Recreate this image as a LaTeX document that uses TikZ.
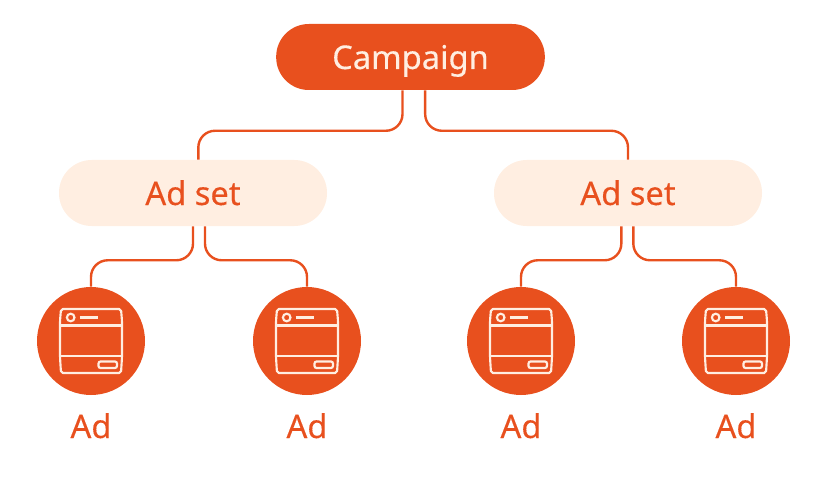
\documentclass[tikz,border=0pt]{standalone}
\usepackage{xcolor}
\usepackage{fontspec}
\setmainfont[FakeBold=0.25]{Noto Sans}
\usetikzlibrary{positioning}
\definecolor{adorange}{HTML}{E8501E}
\definecolor{adcream}{HTML}{FFEEE1}
\newcommand{\adfont}{\fontsize{24.5}{28}\selectfont}
\tikzset{
  campaignbox/.style={rounded corners=24.5pt,minimum width=201.5pt,minimum height=49.5pt,fill=adorange,text=adcream,font=\adfont,text height=18pt,text depth=0pt},
  setbox/.style={rounded corners=24.5pt,minimum width=201pt,minimum height=49.5pt,fill=adcream,text=adorange,font=\adfont,text height=18pt,text depth=0pt},
  adcircle/.style={circle,minimum size=81pt,inner sep=0pt,fill=adorange},
  adlabel/.style={text=adorange,font=\adfont,text height=18pt,text depth=0pt},
  link/.style={draw=adorange,line width=1.8pt,rounded corners=12.5pt},
  iconline/.style={draw=adcream,line width=1.6pt},
  pics/adicon/.style={code={
    \draw[iconline,rounded corners=1.5pt] (-30,-32) -- (30,-32) -- (31,-20) -- (31,16) -- (30,32) -- (-30,32) -- (-31,16) -- (-31,-20) -- cycle;
    \draw[iconline] (-31,-15.5) -- (31,-15.5);
    \draw[iconline] (-31,15) -- (31,15);
    \draw[iconline] (-20.3,-23.5) circle (3.8);
    \draw[iconline] (-11.5,-23.5) -- (6.5,-23.5);
    \draw[iconline,rounded corners=1.5pt] (7.5,20.5) rectangle (26,27);
  }}
}
\begin{document}
\begin{tikzpicture}[x=0.75pt,y=0.75pt,yscale=-1]
\useasboundingbox (0,0) rectangle (822,478);

% top row
\node[campaignbox] (campaign) at (410.5,57) {Campaign};

% ad sets
\node[setbox] (setleft) at (193,193) {Ad set};
\node[setbox] (setright) at (628,193) {Ad set};

% ads
\node[adcircle] (adone) at (91,341) {};
\node[adcircle] (adtwo) at (307,341) {};
\node[adcircle] (adthree) at (521,341) {};
\node[adcircle] (adfour) at (736,341) {};
\foreach \adname in {adone,adtwo,adthree,adfour}
  \pic[yscale=-1] at (\adname) {adicon};

% labels
\node[adlabel] (labelone) at (91,426) {Ad};
\node[adlabel] (labeltwo) at (307,426) {Ad};
\node[adlabel] (labelthree) at (521,426) {Ad};
\node[adlabel] (labelfour) at (736,426) {Ad};

% connectors
\draw[link] ([xshift=-6pt]campaign.south) |- ++(-102,40.5) -| ([xshift=4pt]setleft.north);
\draw[link] ([xshift=11pt]campaign.south) |- ++(102,40.5) -| (setright.north);
\draw[link] (setleft.south) |- ++(-51,34) -| (adone.north);
\draw[link] ([xshift=9pt]setleft.south) |- ++(51,34) -| (adtwo.north);
\draw[link] ([xshift=-5pt]setright.south) |- ++(-51,34) -| (adthree.north);
\draw[link] ([xshift=4pt]setright.south) |- ++(51,34) -| (adfour.north);
\end{tikzpicture}
\end{document}
